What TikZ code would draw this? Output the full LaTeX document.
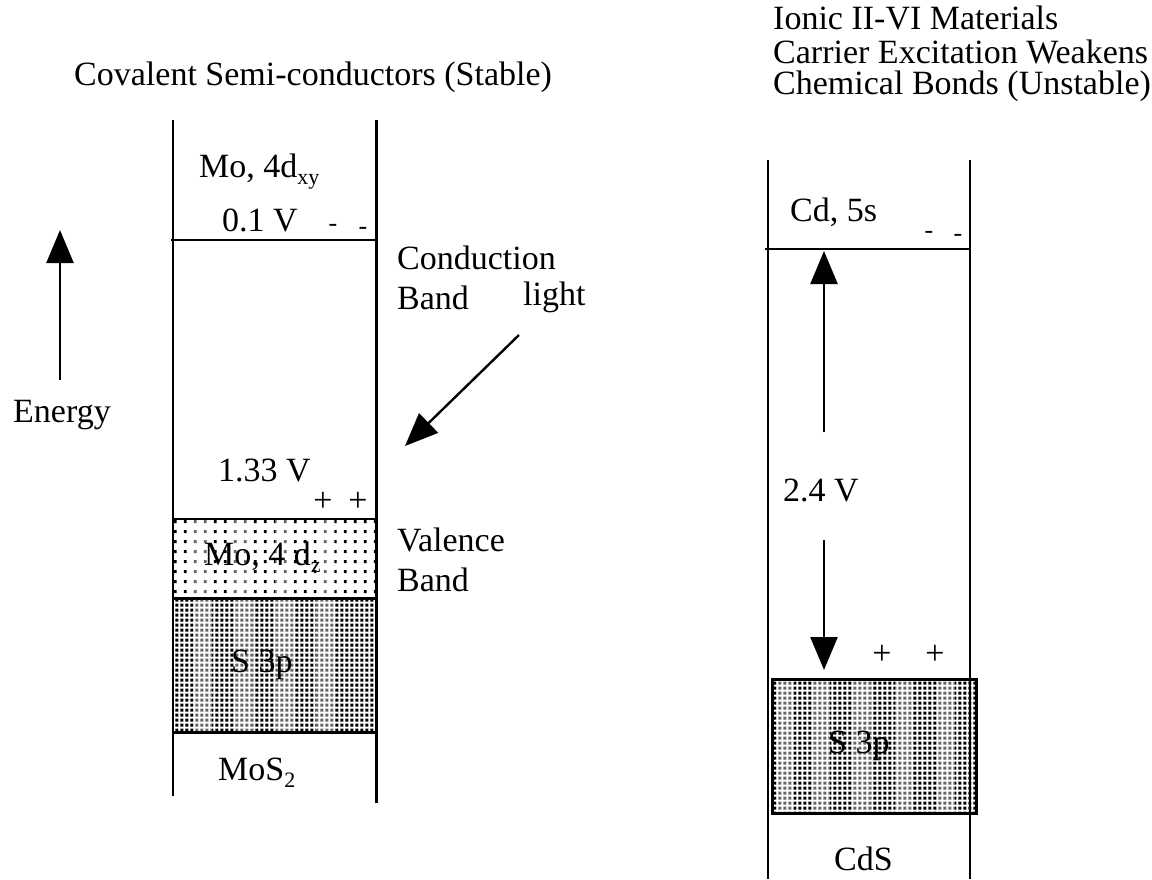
\documentclass[tikz,border=0pt]{standalone}
\usepackage{fontspec}
\setmainfont{Liberation Serif}
\usetikzlibrary{arrows.meta,patterns.meta}
\pgfdeclarepattern{name=densedots, type=uncolored,
  bottom left={\pgfpoint{0pt}{0pt}}, top right={\pgfpoint{4.6pt}{4.6pt}},
  tile size={\pgfpoint{4.6pt}{4.6pt}},
  code={\pgfpathrectangle{\pgfpoint{0.3pt}{0.3pt}}{\pgfpoint{3.4pt}{3.4pt}}\pgfusepath{fill}}}
\pgfdeclarepattern{name=sparsedots, type=uncolored,
  bottom left={\pgfpoint{0pt}{0pt}}, top right={\pgfpoint{10.2pt}{9.5pt}},
  tile size={\pgfpoint{10.2pt}{9.5pt}},
  code={\pgfpathrectangle{\pgfpoint{1pt}{1pt}}{\pgfpoint{3pt}{3pt}}\pgfusepath{fill}}}
\newcommand{\lowsub}[1]{\raisebox{-7pt}{\fontsize{22}{24}\selectfont #1}}
\tikzset{
  txt/.style={inner sep=0pt, anchor=west, font=\fontsize{34}{37}\selectfont},
  sym/.style={inner sep=0pt, font=\fontsize{34}{37}\selectfont},
  small/.style={inner sep=0pt, font=\fontsize{26}{28}\selectfont},
  wall/.style={line width=2.6pt},
  level/.style={line width=2.2pt},
  bigarrow/.style={line width=2.4pt, -{Triangle[length=33pt,width=27pt]}},
  stripe/.style={fill=white, opacity=0.4, draw=none},
}
\begin{document}
\begin{tikzpicture}[x=1pt,y=-1pt]
\useasboundingbox (0,0) rectangle (1152,879);
% ---------- titles ----------
\node[txt] (t1) at (74,77) {Covalent Semi-conductors (Stable)};
\node[txt] (t2) at (773,18) {Ionic II-VI Materials};
\node[txt] (t3) at (773,52) {Carrier Excitation Weakens};
\node[txt] (t4) at (773,86) {Chemical Bonds (Unstable)};
% ---------- left diagram (MoS2) ----------
\fill[pattern=sparsedots] (173,519) rectangle (376,598);
\foreach \sx in {193,234,275,316} \fill[stripe] (\sx,519) rectangle (\sx+19,598);
\fill[pattern=densedots] (173,598) rectangle (376,732);
\foreach \sx in {193,234,275,316} \fill[stripe] (\sx,598) rectangle (\sx+19,732);
\draw[level] (173,519) -- (376,519);
\draw[line width=3pt] (173,598) -- (376,598);
\draw[line width=3pt] (173,732) -- (376,732);
\draw[wall] (173,120) -- (173,796);
\draw[line width=3pt] (376,120) -- (376,803);
\coordinate (cbL) at (171,240);
\coordinate (cbR) at (376,240);
\draw[level] (cbL) -- (cbR);
\node[txt] (moxy) at (199,172) {Mo, 4d\lowsub{xy}};
\node[txt] (v01) at (222,220) {0.1 V};
\node[small] (m1) at (333,228) {-};
\node[small] (m2) at (363,231) {-};
\node[txt] (cond) at (397,258) {Conduction};
\node[txt] (condb) at (397,298) {Band};
\node[txt] (light) at (523,297) {light};
\coordinate (ls) at (519,335);
\coordinate (le) at (405,446);
\draw[bigarrow] (ls) -- (le);
\coordinate (es) at (60,380);
\coordinate (ee) at (60,230);
\draw[bigarrow] (es) -- (ee);
\node[txt] (energy) at (13,415) {Energy};
\node[txt] (v133) at (218,470) {1.33 V};
\node[sym] (p1) at (323,502) {+};
\node[sym] (p2) at (358,502) {+};
\node[txt] (val) at (397,540) {Valence};
\node[txt] (valb) at (397,580) {Band};
\node[txt] (modz) at (204,557) {Mo, 4 d\lowsub{z}};
\node[txt] (s3pL) at (231,665) {S 3p};
\node[txt] (mos2) at (218,773) {MoS\lowsub{2}};
% ---------- right diagram (CdS) ----------
\fill[pattern=densedots] (772,679) rectangle (976,813);
\foreach \sx in {776,812,853,895,937} \fill[stripe] (\sx,679) rectangle (\sx+18,813);
\draw[line width=3pt] (772,679) rectangle (976,813);
\draw[wall] (768,160) -- (768,879);
\draw[wall] (970,160) -- (970,879);
\coordinate (cdL) at (765,249);
\coordinate (cdR) at (970,249);
\draw[level] (cdL) -- (cdR);
\node[txt] (cd5s) at (790,212) {Cd, 5s};
\node[small] (m3) at (929,235) {-};
\node[small] (m4) at (958,238) {-};
\node[txt] (v24) at (783,490) {2.4 V};
\coordinate (a1s) at (824,432);
\coordinate (a1e) at (824,251);
\draw[bigarrow] (a1s) -- (a1e);
\coordinate (a2s) at (824,540);
\coordinate (a2e) at (824,670);
\draw[bigarrow] (a2s) -- (a2e);
\node[sym] (p3) at (882,655) {+};
\node[sym] (p4) at (935,655) {+};
\node[txt] (s3pR) at (828,746) {S 3p};
\node[txt] (cds) at (834,859) {CdS};
\end{tikzpicture}
\end{document}
